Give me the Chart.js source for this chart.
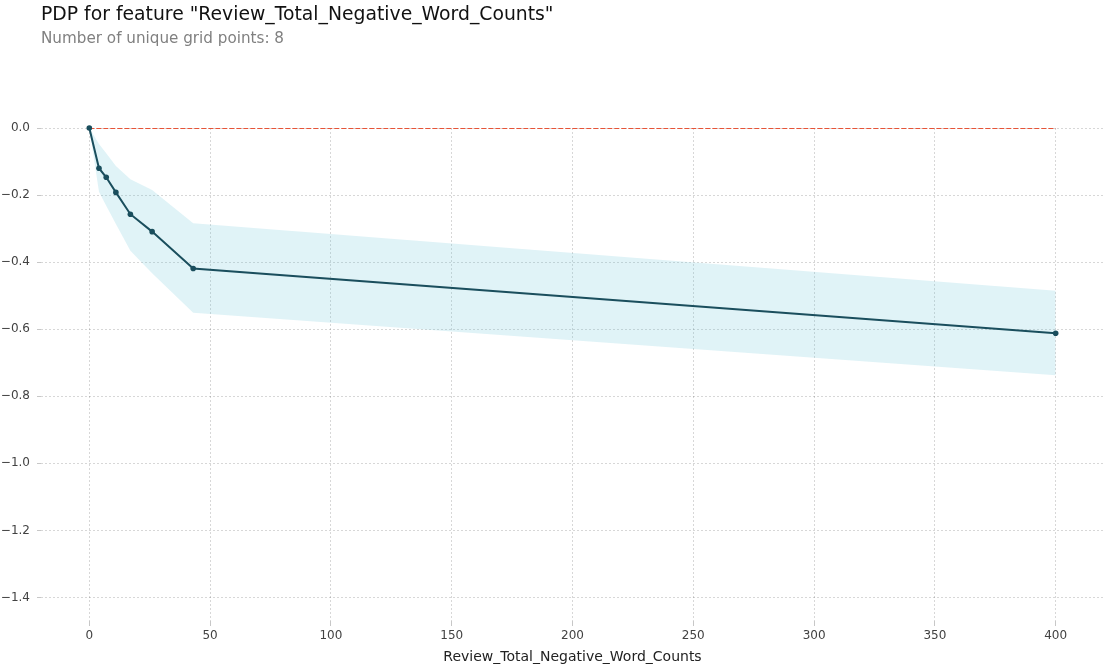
<!DOCTYPE html>
<html>
<head>
<meta charset="utf-8">
<script src="https://cdn.jsdelivr.net/npm/chart.js@4/dist/chart.umd.min.js"></script>
<style>
  html, body { margin: 0; padding: 0; background: #fff; }
  #wrap { position: relative; width: 1104px; height: 666px; font-family: "DejaVu Sans", sans-serif; }
  #title { position: absolute; left: 41px; top: 5px; font-size: 18.8px; color: #111; white-space: nowrap; line-height: 1; }
  #subtitle { position: absolute; left: 41px; top: 31px; font-size: 15.2px; color: #808080; white-space: nowrap; line-height: 1; }
  canvas { position: absolute; left: 0; top: 0; }
</style>
</head>
<body>
<div id="wrap">
  <canvas id="pdp" width="1104" height="666"></canvas>
  <div id="title">PDP for feature "Review_Total_Negative_Word_Counts"</div>
  <div id="subtitle">Number of unique grid points: 8</div>
</div>
<script>
// Grid points of the feature and the partial dependence at each of them
const gridPoints = [0, 4, 7, 11, 17, 26, 43, 400];
const pdpValues  = [0, -0.120, -0.147, -0.192, -0.257, -0.309, -0.419, -0.612];
// Spread of the individual curves around the average (upper / lower bounds)
const upperBand  = [0, -0.048, -0.075, -0.113, -0.153, -0.185, -0.284, -0.485];
const lowerBand  = [0, -0.190, -0.232, -0.286, -0.366, -0.433, -0.551, -0.737];
// Reference line at zero
const zeroLineX  = [0, 400];
const zeroLineY  = [0, 0];
// Axis ticks
const xTicks = [0, 50, 100, 150, 200, 250, 300, 350, 400];
const yTicks = [0, -0.2, -0.4, -0.6, -0.8, -1.0, -1.2, -1.4];

const pts = (xs, ys) => xs.map((x, i) => ({ x: x, y: ys[i] }));

const tickFont = { family: "DejaVu Sans", size: 12 };
const gridStyle = {
  color: "rgba(0,0,0,0.2)",
  lineWidth: 0.8,
  drawTicks: true,
  tickColor: "rgba(0,0,0,0.22)",
  tickWidth: 1,
  tickBorderDash: [],
};
const gridBorder = { display: false, dash: [2, 2] };

new Chart(document.getElementById("pdp"), {
  type: "line",
  data: {
    datasets: [
      {
        label: "upper",
        data: pts(gridPoints, upperBand),
        borderColor: "rgba(0,0,0,0)",
        borderWidth: 0,
        pointRadius: 0,
        fill: false,
        order: 3,
      },
      {
        label: "lower",
        data: pts(gridPoints, lowerBand),
        borderColor: "rgba(0,0,0,0)",
        borderWidth: 0,
        pointRadius: 0,
        backgroundColor: "rgba(102,194,215,0.2)",
        fill: "-1",
        order: 2,
      },
      {
        label: "zero",
        data: pts(zeroLineX, zeroLineY),
        borderColor: "#E75438",
        borderWidth: 1.8,
        borderDash: [5, 2],
        pointRadius: 0,
        fill: false,
        order: 1,
      },
      {
        label: "pdp",
        data: pts(gridPoints, pdpValues),
        borderColor: "#1A4E5D",
        borderWidth: 2,
        pointRadius: 2.8,
        pointBackgroundColor: "#1A4E5D",
        pointBorderWidth: 0,
        fill: false,
        clip: false,
        order: 0,
      },
    ],
  },
  options: {
    responsive: false,
    animation: false,
    events: [],
    layout: { autoPadding: false, padding: { top: 128, right: 0, left: 0, bottom: 0 } },
    plugins: { legend: { display: false }, tooltip: { enabled: false } },
    scales: {
      x: {
        type: "linear",
        min: -20,
        max: 420,
        border: gridBorder,
        grid: Object.assign({ tickLength: 5 }, gridStyle),
        ticks: { font: tickFont, color: "#424242", padding: 3 },
        afterBuildTicks: (s) => { s.ticks = xTicks.map((v) => ({ value: v })); },
        afterFit: (s) => { s.height = 45; s.paddingLeft = 0; s.paddingRight = 0; },
        title: {
          display: true,
          text: "Review_Total_Negative_Word_Counts",
          font: { family: "DejaVu Sans", size: 14 },
          color: "#222",
          padding: { top: 0, bottom: 0 },
        },
      },
      y: {
        type: "linear",
        min: -1.47,
        max: 0,
        border: gridBorder,
        grid: Object.assign({ tickLength: 4 }, gridStyle),
        ticks: {
          font: tickFont,
          color: "#424242",
          padding: 7,
          callback: (v) => (v === 0 ? "0.0" : "\u2212" + Math.abs(v).toFixed(1)),
        },
        afterBuildTicks: (s) => { s.ticks = yTicks.map((v) => ({ value: v })); },
        afterFit: (s) => { s.width = 41; s.paddingTop = 0; s.paddingBottom = 0; },
      },
    },
  },
});
</script>
</body>
</html>
